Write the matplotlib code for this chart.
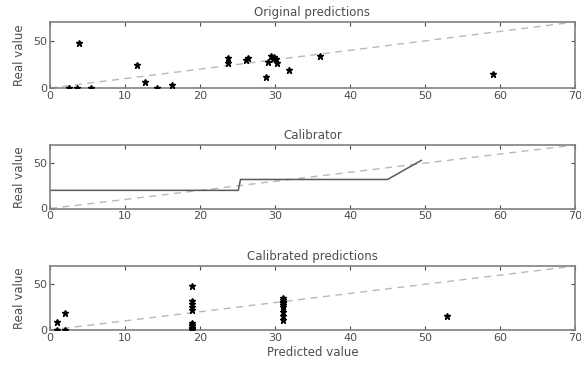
import matplotlib
matplotlib.use('Agg')
import matplotlib.pyplot as plt
import numpy as np

# original predictions (predicted, real)
orig_pred = [2.5, 3.6, 3.8, 5.4, 11.6, 12.7, 14.3, 16.3, 23.7, 23.7, 26.1, 26.4,
             28.8, 29.1, 29.5, 29.7, 29.9, 30.3, 30.1, 31.8, 36.0, 59.1]
orig_real = [0, 0, 48, 0, 24, 6, 0, 3, 32, 27, 30, 32,
             11.5, 28, 34, 31, 33, 27, 31, 18.6, 34, 15]

# calibrator curve
cal_x = [0, 25.1, 25.4, 45.0, 49.5]
cal_y = [20, 20, 32, 32, 53]

# calibrated predictions
calib_pred = [0.9, 0.9, 2.0, 2.0,
              18.9, 18.9, 18.9, 18.9, 18.9, 18.9, 18.9, 18.9, 18.9, 18.9, 18.9,
              31.0, 31.0, 31.0, 31.0, 31.0, 31.0, 31.0, 31.0, 31.0,
              52.9]
calib_real = [9, 0, 19, 0,
              48.5, 32, 28, 25, 22, 8, 6, 4, 2, 1, 0,
              35, 33, 31, 29, 27, 25, 20, 15.5, 11,
              15.8]

diag = [0, 70]
xticks = [0, 10, 20, 30, 40, 50, 60, 70]
yticks = [0, 50]

fig = plt.figure(figsize=(5.81, 3.67), dpi=100)
W = 525 / 581
boxes = [(50 / 581, 1 - 88 / 367, W, 66 / 367),
         (50 / 581, 1 - 208.5 / 367, W, 63.5 / 367),
         (50 / 581, 1 - 330 / 367, W, 64 / 367)]
titles = ['Original predictions', 'Calibrator', 'Calibrated predictions']

axes = [fig.add_axes(b) for b in boxes]
tc = '0.3'
for ax, t in zip(axes, titles):
    ax.plot(diag, diag, '--', color='0.72', lw=1, dashes=(5, 4), zorder=1)
    ax.set_xlim(0, 70)
    ax.set_ylim(0, 70)
    ax.set_xticks(xticks)
    ax.set_yticks(yticks)
    ax.tick_params(direction='in', top=True, right=True, length=3, width=0.8,
                   labelsize=8, colors='0.3', labelcolor=tc, pad=2)
    for s in ax.spines.values():
        s.set_color('0.5')
        s.set_linewidth(1.2)
    ax.set_title(t, fontsize=8.5, color=tc, pad=4)
    ax.set_ylabel('Real value', fontsize=8.5, color=tc, labelpad=5)

axes[0].plot(orig_pred, orig_real, 'k*', ms=4.5, zorder=3)
axes[1].plot(cal_x, cal_y, '-', color='0.35', lw=1.1, zorder=2)
axes[2].plot(calib_pred, calib_real, 'k*', ms=4.5, zorder=3)
axes[2].set_xlabel('Predicted value', fontsize=8.5, color=tc, labelpad=2)

fig.savefig('out.png', dpi=100)
